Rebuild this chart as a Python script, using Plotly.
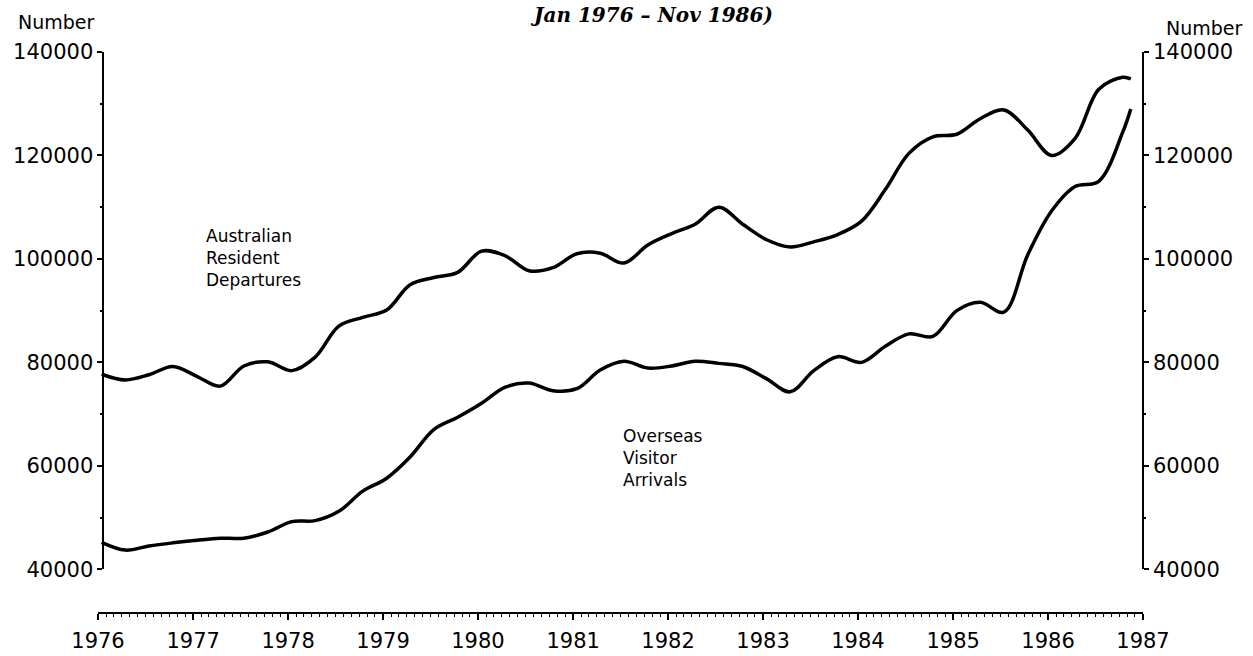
import plotly.graph_objects as go

# Quarterly readings (mid-month), Jan 1976 - Nov 1986
dates = [f"{y}-{m:02d}-15" for y in range(1976, 1987) for m in (1, 4, 7, 10)] + ["1986-11-15"]

resident_departures = [
    77700, 76600, 77600, 79200,
    77300, 75400, 79300, 80100,
    78400, 81000, 87000, 88700,
    90100, 95000, 96400, 97400,
    101500, 100600, 97700, 98300,
    101000, 101100, 99200, 102700,
    104900, 106700, 110000, 106700,
    103700, 102300, 103300, 104700,
    107300, 113400, 120400, 123600,
    124100, 127100, 128800, 124900,
    120000, 123300, 132800, 135100, 134800,
]

visitor_arrivals = [
    45200, 43700, 44500, 45100,
    45600, 46000, 46000, 47200,
    49200, 49400, 51200, 55100,
    57600, 61700, 67000, 69400,
    72100, 75200, 76000, 74500,
    74900, 78500, 80200, 78900,
    79300, 80200, 79800, 79200,
    76800, 74300, 78400, 81100,
    80000, 83100, 85500, 85000,
    90000, 91600, 89700, 100800,
    109300, 114000, 115000, 124500, 129000,
]

year_ticks = [f"{y}-01-01" for y in range(1976, 1988)]
year_labels = [str(y) for y in range(1976, 1988)]
y_ticks = [40000, 60000, 80000, 100000, 120000, 140000]

FONT = "DejaVu Sans"

fig = go.Figure()
fig.add_trace(go.Scatter(x=dates, y=resident_departures, mode="lines",
                         line=dict(color="black", width=3.5, shape="spline", smoothing=1.0),
                         showlegend=False, hoverinfo="skip"))
fig.add_trace(go.Scatter(x=dates, y=visitor_arrivals, mode="lines",
                         line=dict(color="black", width=3.5, shape="spline", smoothing=1.0),
                         showlegend=False, hoverinfo="skip"))
# invisible trace to carry the right-hand axis
fig.add_trace(go.Scatter(x=dates, y=resident_departures, yaxis="y2", mode="lines",
                         line=dict(color="rgba(0,0,0,0)", width=0),
                         showlegend=False, hoverinfo="skip"))

fig.update_layout(
    width=1253, height=656,
    margin=dict(l=98, r=110, t=52, b=43),
    paper_bgcolor="white", plot_bgcolor="white",
    font=dict(family=FONT, size=20, color="black"),
    xaxis=dict(
        type="date", range=["1976-01-01", "1987-01-01"],
        tickvals=year_ticks, ticktext=year_labels,
        showgrid=False, zeroline=False,
        showline=True, linecolor="black", linewidth=1.5,
        ticks="outside", ticklen=6, tickwidth=1.5, tickcolor="black",
        minor=dict(dtick="M1", tick0="1976-01-01", ticks="outside", ticklen=3,
                   tickwidth=1, tickcolor="black", showgrid=False),
        tickfont=dict(family=FONT, size=21),
        ticklabelstandoff=3,
        anchor="free", position=0, automargin=False,
    ),
    yaxis=dict(
        range=[40000, 140000], domain=[0.078, 1],
        tickvals=y_ticks, tickformat="d",
        showgrid=False, zeroline=False,
        showline=True, linecolor="black", linewidth=1.5,
        ticks="outside", ticklen=5, tickwidth=1.5, tickcolor="black",
        minor=dict(dtick=10000, ticks="outside", ticklen=2, tickcolor="black", showgrid=False),
        tickfont=dict(family=FONT, size=21),
        anchor="free", position=0.005, automargin=False,
    ),
    yaxis2=dict(
        range=[40000, 140000], overlaying="y", side="right",
        tickvals=y_ticks, tickformat="d",
        showgrid=False, zeroline=False,
        showline=True, linecolor="black", linewidth=1.5,
        ticks="outside", ticklen=5, tickwidth=1.5, tickcolor="black",
        minor=dict(dtick=10000, ticks="outside", ticklen=2, tickcolor="black", showgrid=False),
        tickfont=dict(family=FONT, size=21),
        anchor="free", position=1.0, automargin=False,
    ),
)

W, H = 1253, 656
PL, PB, PW, PH = 98, 43, 1253 - 98 - 110, 656 - 52 - 43


def px(xp, yp):
    return (xp - PL) / PW, (H - yp - PB) / PH


def label(text, xp, yp, size=20, xanchor="left", yanchor="middle", family=FONT):
    x0, y0 = px(xp, yp)
    fig.add_annotation(text=text, x=x0, y=y0, xref="paper", yref="paper",
                       xanchor=xanchor, yanchor=yanchor, showarrow=False, align="left",
                       font=dict(family=family, size=size, color="black"))


# axis captions
label("Number", 56, 22, size=19, xanchor="center")
label("Number", 1204, 28, size=19, xanchor="center")

# partial heading at page top
label("<b><i>Jan 1976 – Nov 1986)</i></b>", 651, 15, size=20, xanchor="center",
      family="DejaVu Serif")

# series labels
label("Australian<br>Resident<br>Departures", 204, 258, size=17)
label("Overseas<br>Visitor<br>Arrivals", 621, 458, size=17)

fig.write_html("out.html", config={"displayModeBar": False},
               post_script="document.body.style.margin='0';")
